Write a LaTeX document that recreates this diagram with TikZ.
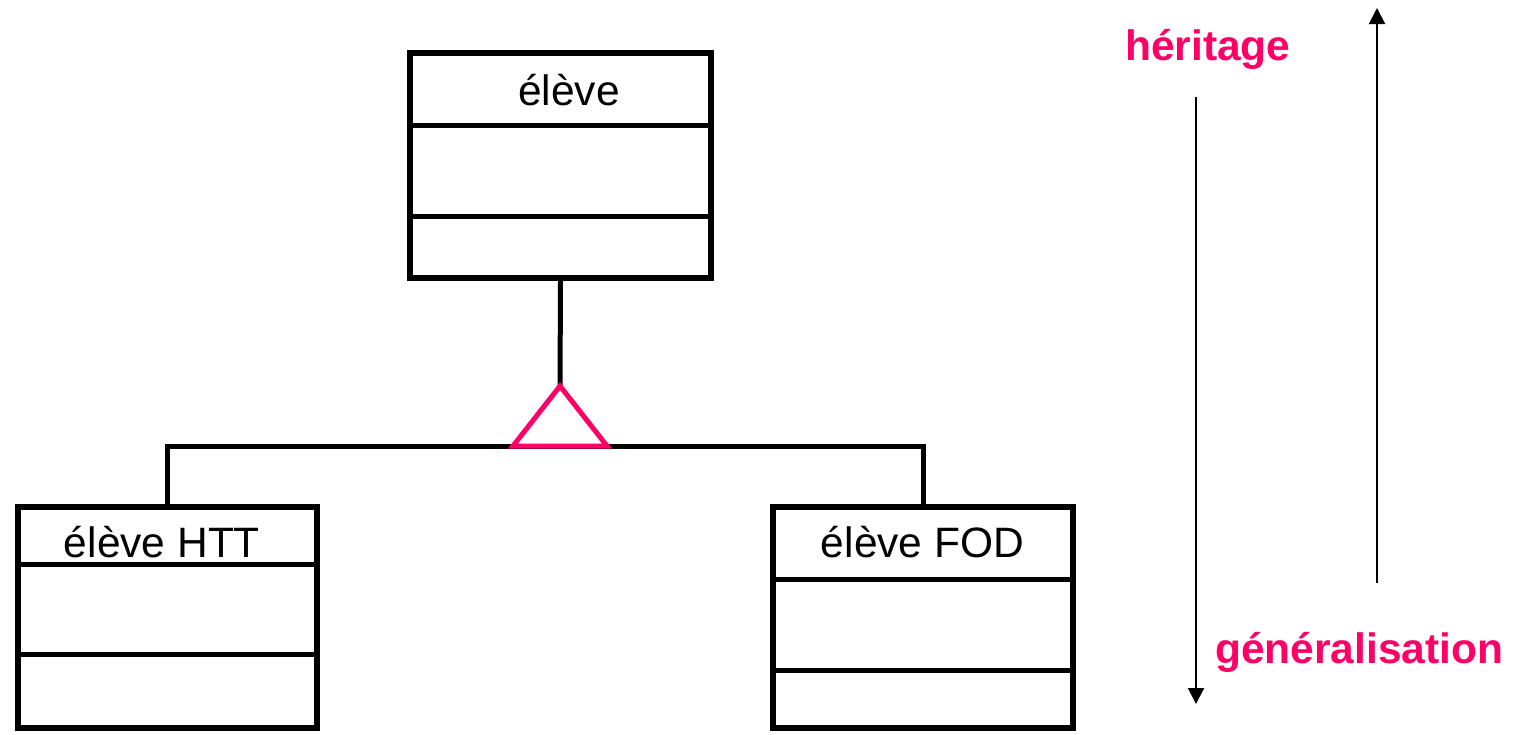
\documentclass[tikz,border=0pt]{standalone}
\usepackage{fontspec}
\setmainfont{Liberation Sans}
\usetikzlibrary{arrows.meta}
\definecolor{pinkred}{HTML}{FF0066}
\tikzset{
  umlbox/.style={draw=black, line width=5.5pt, rectangle, inner sep=0pt},
  divider/.style={draw=black, line width=5.5pt},
  conn/.style={draw=black, line width=5pt},
  genarrow/.style={draw=pinkred, line width=5pt, line join=miter},
  dirarrow/.style={draw=black, line width=2pt, -{Triangle[width=16pt,length=16pt]}},
  boxlabel/.style={anchor=base, inner sep=0pt, font=\fontsize{42.5}{50}\selectfont},
  pinklabel/.style={anchor=base west, inner sep=0pt, text=pinkred, font=\fontsize{42.5}{50}\selectfont\bfseries}
}
\begin{document}
\begin{tikzpicture}[x=1pt,y=-1pt]
\useasboundingbox (0,0) rectangle (1515,734);
% classes
\node[umlbox, minimum width=301pt, minimum height=225pt] (eleve) at (560.5,165.5) {};
\node[umlbox, minimum width=299pt, minimum height=221pt] (htt) at (167.5,617.5) {};
\node[umlbox, minimum width=300pt, minimum height=221pt] (fod) at (923,617.5) {};
% dividers
\draw[divider] ([yshift=-75pt]eleve.north west) -- ([yshift=-75pt]eleve.north east);
\draw[divider] ([yshift=-166pt]eleve.north west) -- ([yshift=-166pt]eleve.north east);
\draw[divider] ([yshift=-60pt]htt.north west) -- ([yshift=-60pt]htt.north east);
\draw[divider] ([yshift=-150pt]htt.north west) -- ([yshift=-150pt]htt.north east);
\draw[divider] ([yshift=-75pt]fod.north west) -- ([yshift=-75pt]fod.north east);
\draw[divider] ([yshift=-166pt]fod.north west) -- ([yshift=-166pt]fod.north east);
% labels
\node[boxlabel] (leleve) at (569,105) {élève};
\node[boxlabel] (lhtt) at (162,557) {élève HTT};
\node[boxlabel] (lfod) at (922.5,557) {élève FOD};
% generalization
\coordinate (apex) at (560,386);
\coordinate (bar) at (560,446);
\coordinate (tl) at (513,446);
\coordinate (tr) at (607,446);
\draw[conn] (eleve.south) -- (apex);
\draw[conn] (htt.north) |- (bar) -| (fod.north);
\draw[genarrow] (apex) -- (tl) -- (tr) -- cycle;
% direction arrows
\coordinate (up0) at (1377,583);
\coordinate (up1) at (1377,8);
\coordinate (dn0) at (1196,97);
\coordinate (dn1) at (1196,704);
\draw[dirarrow] (up0) -- (up1);
\draw[dirarrow] (dn0) -- (dn1);
\node[pinklabel] (her) at (1125,60) {héritage};
\node[pinklabel] (gen) at (1215,663) {généralisation};
\end{tikzpicture}
\end{document}
